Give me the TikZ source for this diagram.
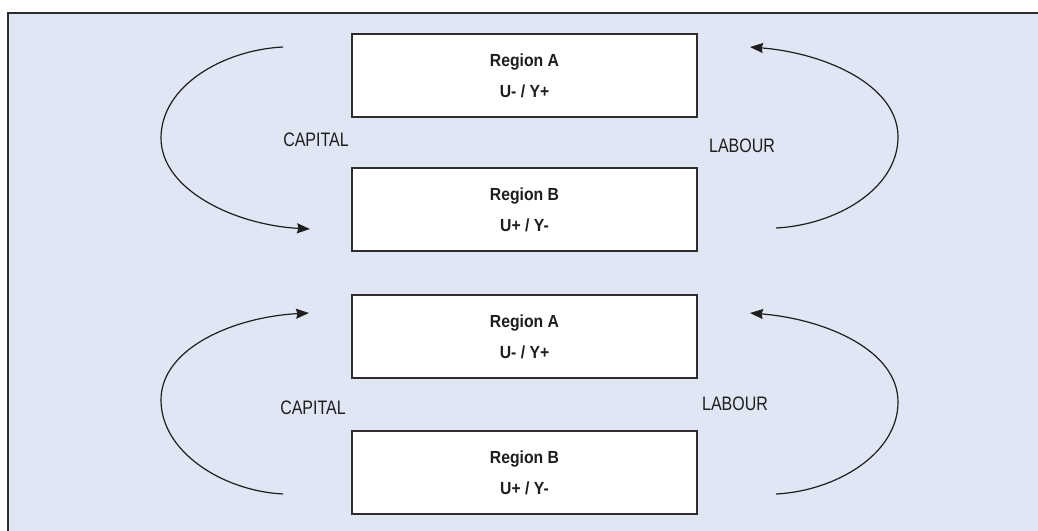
\documentclass[tikz,border=0pt]{standalone}
\usepackage{fontspec}
\usepackage{tikz}
\usetikzlibrary{arrows.meta, positioning}
\newfontfamily\labelfont[FakeStretch=0.82]{Liberation Sans}
\newfontfamily\boxfont[FakeStretch=0.9]{Liberation Sans}
\definecolor{panelblue}{RGB}{224, 230, 244}
\definecolor{framegray}{RGB}{45, 45, 45}
\definecolor{inkgray}{RGB}{30, 30, 30}
\tikzset{
  regionbox/.style={draw=framegray, fill=white, line width=1.3pt,
    minimum width=345pt, minimum height=83pt, inner sep=0pt, outer sep=0pt,
    align=center, text=inkgray, font=\boxfont\bfseries\fontsize{17.5}{31}\selectfont},
  flowlabel/.style={text=inkgray, inner sep=0pt,
    font=\labelfont\fontsize{19.5}{22}\selectfont},
  flowarrow/.style={draw=inkgray, line width=1.2pt,
    -{Stealth[length=13pt, width=10pt, inset=1.5pt]}},
}

\begin{document}
\begin{tikzpicture}[x=1pt, y=1pt]
    \useasboundingbox (0,0) rectangle (1038,530);
    \clip (0,0) rectangle (1038,530);
    % Panel
    \draw[framegray, fill=panelblue, line width=2pt] (8.3,-10) rectangle (1050,517.3);
    % Region boxes
    \node[regionbox] (A1) at (524.5,454.5) {Region A\\U- / Y+};
    \node[regionbox, below=51pt of A1] (B1) {Region B\\U+ / Y-};
    \node[regionbox, below=44pt of B1] (A2) {Region A\\U- / Y+};
    \node[regionbox, below=53pt of A2] (B2) {Region B\\U+ / Y-};
    % Arrow ends
    \coordinate (capA1) at ([shift={(-69pt,28.5pt)}]A1.west);
    \coordinate (capB1) at ([shift={(-42pt,-19.5pt)}]B1.west);
    \coordinate (labB1) at ([shift={(79pt,-18.5pt)}]B1.east);
    \coordinate (labA1) at ([shift={(53pt,28.5pt)}]A1.east);
    \coordinate (capB2) at ([shift={(-69pt,-21.5pt)}]B2.west);
    \coordinate (capA2) at ([shift={(-43pt,23.5pt)}]A2.west);
    \coordinate (labB2) at ([shift={(79pt,-21.5pt)}]B2.east);
    \coordinate (labA2) at ([shift={(53pt,23.5pt)}]A2.east);
    % Upper pair: capital A -> B, labour B -> A
    \draw[flowarrow] (capA1) .. controls +(-60,-3) and +(0,52) .. ++(-122,-91)
      .. controls +(0,-52) and +(-75,4) .. (capB1);
    \node[flowlabel] (capTop) at (316,390) {CAPITAL};
    \draw[flowarrow] (labB1) .. controls +(60,3) and +(0,-52) .. ++(122,91)
      .. controls +(0,52) and +(75,-6) .. (labA1);
    \node[flowlabel] (labTop) at (742,384) {LABOUR};
    % Lower pair: capital B -> A, labour B -> A
    \draw[flowarrow] (capB2) .. controls +(-60,3) and +(0,-52) .. ++(-122,94)
      .. controls +(0,52) and +(-75,-4) .. (capA2);
    \node[flowlabel] (capBot) at (313,122) {CAPITAL};
    \draw[flowarrow] (labB2) .. controls +(60,3) and +(0,-52) .. ++(122,92)
      .. controls +(0,52) and +(75,-6) .. (labA2);
    \node[flowlabel] (labBot) at (735,126) {LABOUR};
\end{tikzpicture}
\end{document}
